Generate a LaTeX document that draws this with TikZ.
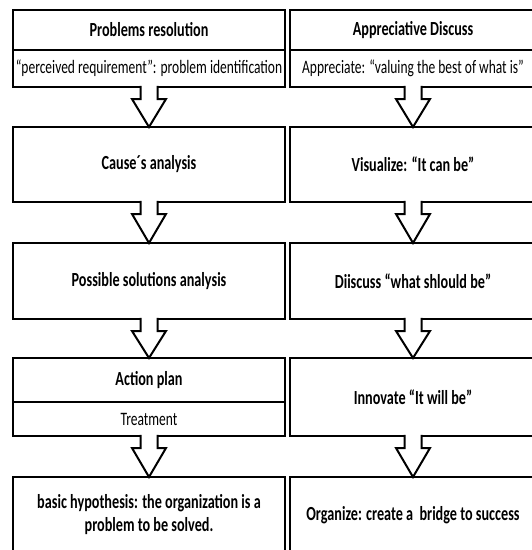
\documentclass[tikz,border=0pt]{standalone}
\usepackage{fontspec}
\setmainfont{Carlito}
\newfontfamily\headfont[FakeStretch=0.71]{Carlito}
\usetikzlibrary{calc}

\begin{document}
\begin{tikzpicture}[x=1pt,y=-1pt,line width=2.4pt,
    box/.style={draw,outer sep=0pt,inner sep=1pt,align=center,
        font=\headfont\bfseries\fontsize{20}{23}\selectfont},
    subbox/.style={box,font=\headfont\fontsize{19}{22}\selectfont},
    lcol/.style={minimum width=272},
    rcol/.style={minimum width=246}]
                \useasboundingbox (0,0) rectangle (532,550);
                \clip (0,0) rectangle (532,550);
                % left column
                \node[box,lcol,minimum height=40] (p1) at (149,30) {Problems resolution};
                \node[subbox,lcol,minimum height=37] (p1s) at (149,68.5) {“perceived requirement”: problem identification};
                \node[box,lcol,minimum height=75] (p2) at (149,164.5) {Cause´s analysis};
                \node[box,lcol,minimum height=76] (p3) at (149,281) {Possible solutions analysis};
                \node[box,lcol,minimum height=44] (p4) at (149,380) {Action plan};
                \node[subbox,lcol,minimum height=34] (p4s) at (149,419) {Treatment};
                \node[box,lcol,minimum height=76] (p5) at (149,515) {basic hypothesis: the organization is a\\problem to be solved.};
                % right column
                \node[box,rcol,minimum height=40] (v1) at (413,30) {Appreciative Discuss};
                \node[subbox,rcol,minimum height=37] (v1s) at (413,68.5) {Appreciate: “valuing the best of what is”};
                \node[box,rcol,minimum height=75] (v2) at (413,164.5) {Visualize: “It can be”};
                \node[box,rcol,minimum height=76] (v3) at (413,281) {Diiscuss “what shlould be”};
                \node[box,rcol,minimum height=78] (v4) at (413,397) {Innovate “It will be”};
                \node[box,rcol,minimum height=76] (v5) at (413,515) {Organize: create a~ bridge to success};
                % block arrows
                \foreach \a/\b in {p1s/p2,p2/p3,p3/p4,p4s/p5,v1s/v2,v2/v3,v3/v4,v4/v5}{
                    \fill[white] ($(\a.south)+(-8.5,-2)$) -- ($(\a.south)+(-8.5,12)$) -- ($(\a.south)+(-17,12)$) -- (\b.north)
                        -- ($(\a.south)+(17,12)$) -- ($(\a.south)+(8.5,12)$) -- ($(\a.south)+(8.5,-2)$) -- cycle;
                    \draw[line width=2pt] ($(\a.south)+(-8.5,-1.2)$) -- ($(\a.south)+(-8.5,12)$) -- ($(\a.south)+(-17,12)$) -- (\b.north)
                        -- ($(\a.south)+(17,12)$) -- ($(\a.south)+(8.5,12)$) -- ($(\a.south)+(8.5,-1.2)$);
                }
            \end{tikzpicture}
\end{document}
